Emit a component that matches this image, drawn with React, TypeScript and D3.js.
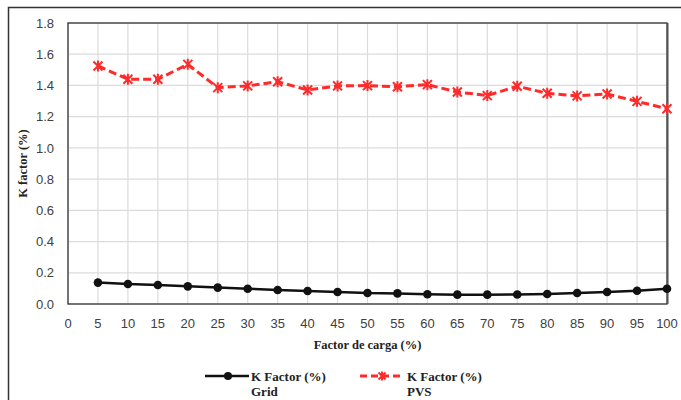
import React from "react";
import * as d3 from "d3";

const loads = [5, 10, 15, 20, 25, 30, 35, 40, 45, 50, 55, 60, 65, 70, 75, 80, 85, 90, 95, 100];
const gridK = [0.137, 0.128, 0.122, 0.113, 0.105, 0.098, 0.09, 0.083, 0.077, 0.07, 0.068, 0.062, 0.06, 0.06, 0.061, 0.064, 0.07, 0.077, 0.085, 0.098];
const pvsK = [1.525, 1.44, 1.44, 1.535, 1.386, 1.397, 1.424, 1.371, 1.397, 1.399, 1.392, 1.405, 1.358, 1.335, 1.395, 1.35, 1.333, 1.345, 1.298, 1.251];
const xTicks = d3.range(0, 101, 5);
const yTicks = [0, 0.2, 0.4, 0.6, 0.8, 1.0, 1.2, 1.4, 1.6, 1.8];
const xTitle = "Factor de carga (%)";
const yTitle = "K factor (%)";
const legendLabels = [["K Factor (%)", "Grid"], ["K Factor (%)", "PVS"]];

const W = 681, H = 400;
const L = 68, T = 23, R = 667, B = 304;

function Star({ x, y, s = 4.5 }: { x: number; y: number; s?: number }) {
  const d = `M${x - s},${y - s}L${x + s},${y + s}M${x - s},${y + s}L${x + s},${y - s}M${x},${y - s - 1}L${x},${y + s + 1}`;
  return <path d={d} stroke="#ff2a2a" strokeWidth={2} fill="none" />;
}

export default function App() {
  const x = d3.scaleLinear().domain([0, 100]).range([L, R]);
  const y = d3.scaleLinear().domain([0, 1.8]).range([B, T]);
  const line = d3.line<[number, number]>().x((d) => x(d[0])).y((d) => y(d[1]));
  const gridPts = loads.map((l, i) => [l, gridK[i]] as [number, number]);
  const pvsPts = loads.map((l, i) => [l, pvsK[i]] as [number, number]);
  const red = "#ff2a2a";
  const tickFont = "'Liberation Sans', Arial, sans-serif";
  const serif = "'Liberation Serif', 'Times New Roman', serif";
  return (
    <svg width={W} height={H} style={{ position: "absolute", left: 0, top: 0 }}>
      <rect x={0} y={0} width={W} height={H} fill="#fff" />
      <path d={`M8.5,${H}L8.5,7.5L${W},7.5`} stroke="#333" strokeWidth={1.5} fill="none" />
      {yTicks.map((t) => (
        <line key={"gy" + t} x1={L} x2={R} y1={y(t)} y2={y(t)} stroke="#dcdcdc" strokeWidth={1.2} />
      ))}
      {xTicks.map((t) => (
        <line key={"gx" + t} x1={x(t)} x2={x(t)} y1={T} y2={B} stroke="#dcdcdc" strokeWidth={1.2} />
      ))}
      <rect x={L} y={T} width={R - L} height={B - T} fill="none" stroke="#333" strokeWidth={1.3} />
      <line x1={R + 0.8} x2={R + 0.8} y1={T} y2={B} stroke="#555" strokeWidth={1.5} />
      {yTicks.map((t) => (
        <text key={"ty" + t} x={54} y={y(t)} dy="0.36em" textAnchor="end" fontFamily={tickFont} fontSize={13} fill="#404040">
          {t.toFixed(1)}
        </text>
      ))}
      {xTicks.map((t) => (
        <text key={"tx" + t} x={x(t)} y={328} textAnchor="middle" fontFamily={tickFont} fontSize={13} fill="#404040">
          {t}
        </text>
      ))}
      <text x={(L + R) / 2} y={349} textAnchor="middle" fontFamily={serif} fontWeight="bold" fontSize={12.5} fill="#222">
        {xTitle}
      </text>
      <text transform={`translate(27,${(T + B) / 2}) rotate(-90)`} textAnchor="middle" fontFamily={serif} fontWeight="bold" fontSize={12.5} fill="#222">
        {yTitle}
      </text>
      <path d={line(gridPts) || ""} stroke="#111" strokeWidth={2.5} fill="none" />
      {gridPts.map((p, i) => (
        <circle key={"g" + i} cx={x(p[0])} cy={y(p[1])} r={4.3} fill="#111" />
      ))}
      <path d={line(pvsPts) || ""} stroke={red} strokeWidth={3} strokeDasharray="8,4" fill="none" />
      {pvsPts.map((p, i) => (
        <Star key={"p" + i} x={x(p[0])} y={y(p[1])} />
      ))}
      {/* legend */}
      <line x1={205} x2={249} y1={376} y2={376} stroke="#111" strokeWidth={2.5} />
      <circle cx={228} cy={376} r={4} fill="#111" />
      <text x={251} y={381} fontFamily={serif} fontWeight="bold" fontSize={13} fill="#222">{legendLabels[0][0]}</text>
      <text x={251} y={396} fontFamily={serif} fontWeight="bold" fontSize={13} fill="#222">{legendLabels[0][1]}</text>
      <line x1={360} x2={404} y1={376} y2={376} stroke={red} strokeWidth={3} strokeDasharray="7,4" />
      <Star x={382} y={376} s={3.5} />
      <text x={407} y={381} fontFamily={serif} fontWeight="bold" fontSize={13} fill="#222">{legendLabels[1][0]}</text>
      <text x={407} y={396} fontFamily={serif} fontWeight="bold" fontSize={13} fill="#222">{legendLabels[1][1]}</text>
    </svg>
  );
}
